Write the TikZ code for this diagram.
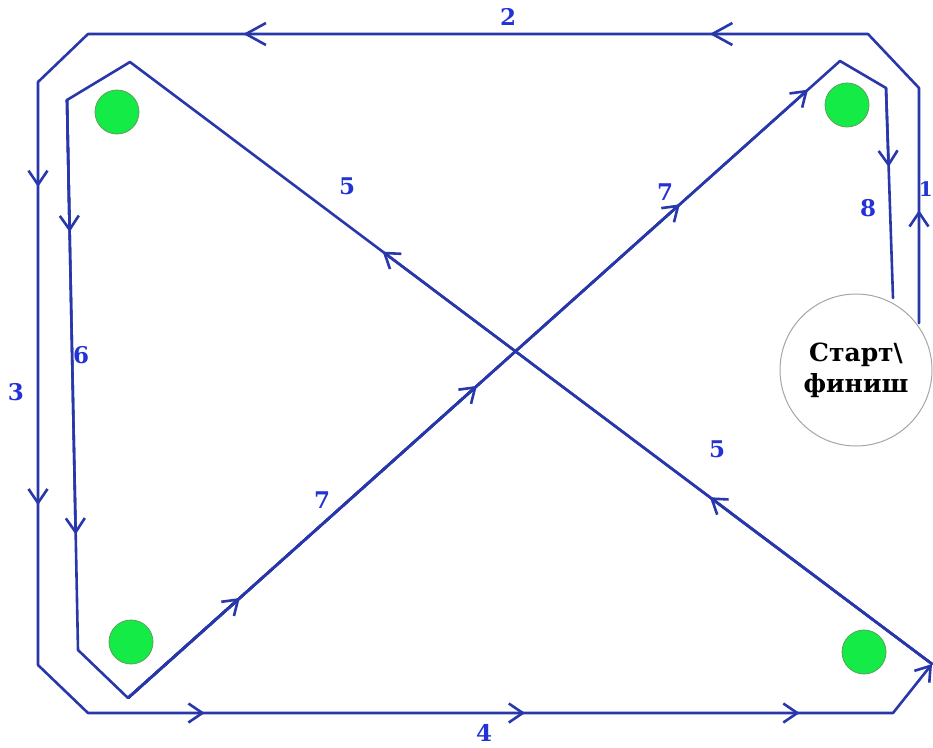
\documentclass[tikz,border=0pt]{standalone}
\usepackage{fontspec}
\setmainfont{DejaVu Serif}
\usetikzlibrary{arrows.meta,calc}
\definecolor{pathblue}{RGB}{40,55,170}
\definecolor{lblblue}{RGB}{35,50,215}
\definecolor{dotgreen}{RGB}{20,235,70}
\definecolor{dotedge}{RGB}{90,160,90}
\begin{document}
\begin{tikzpicture}[x=1pt,y=-1pt,
  route/.style={draw=pathblue, line width=2.6pt, line join=round, line cap=round},
  tipmark/.style={route, -{Straight Barb[length=14pt,width=19pt]}},
  bigtip/.style={route, -{Straight Barb[length=20pt,width=22pt]}},
  dot/.style={circle, fill=dotgreen, draw=dotedge, line width=0.8pt, minimum size=44pt, inner sep=0pt},
  startc/.style={circle, draw=black!35, line width=1pt, fill=white, minimum size=152pt, inner sep=0pt, align=center, font=\fontsize{25}{31}\selectfont\bfseries},
  lbl/.style={text=lblblue, font=\fontsize{23}{25}\selectfont\bfseries, inner sep=0pt}]
\useasboundingbox (0,0) rectangle (933,747);
% outer route
\coordinate (s1) at (919,323);
\coordinate (o1) at (919,88);
\coordinate (o2) at (868,34);
\coordinate (o3) at (88,34);
\coordinate (o4) at (38,82);
\coordinate (o5) at (38,665);
\coordinate (o6) at (88,713);
\coordinate (o7) at (893,713);
\coordinate (o8) at (932,664);
% inner route
\coordinate (p1) at (130,62);
\coordinate (p2) at (67,100);
\coordinate (p3) at (78,650);
\coordinate (p4) at (128,698);
\coordinate (p5) at (840,61);
\coordinate (p6) at (886,88);
\coordinate (p7) at (893,298);

\draw[route] (s1) -- (o1) -- (o2) -- (o3) -- (o4) -- (o5) -- (o6) -- (o7);
\draw[tipmark] (o7) -- (o8);
\draw[route] (o8) -- (p1) -- (p2) -- (p3) -- (p4) -- (p5) -- (p6) -- (p7);

% arrow marks
\draw[tipmark] (s1) -- ($(s1)!0.48!(o1)$);
\draw[bigtip] (o2) -- ($(o2)!0.203!(o3)$);
\draw[bigtip] (o2) -- ($(o2)!0.801!(o3)$);
\draw[tipmark] (o4) -- ($(o4)!0.18!(o5)$);
\draw[tipmark] (o4) -- ($(o4)!0.726!(o5)$);
\draw[tipmark] (o6) -- ($(o6)!0.145!(o7)$);
\draw[tipmark] (o6) -- ($(o6)!0.543!(o7)$);
\draw[tipmark] (o6) -- ($(o6)!0.884!(o7)$);
\draw[tipmark] (o8) -- ($(o8)!0.277!(p1)$);
\draw[tipmark] (o8) -- ($(o8)!0.685!(p1)$);
\draw[tipmark] (p2) -- ($(p2)!0.24!(p3)$);
\draw[tipmark] (p2) -- ($(p2)!0.79!(p3)$);
\draw[tipmark] (p4) -- ($(p4)!0.157!(p5)$);
\draw[tipmark] (p4) -- ($(p4)!0.49!(p5)$);
\draw[tipmark] (p4) -- ($(p4)!0.775!(p5)$);
\draw[tipmark] (p4) -- ($(p4)!0.955!(p5)$);
\draw[tipmark] (p6) -- ($(p6)!0.376!(p7)$);

% green markers
\node[dot] (g1) at (117,112) {};
\node[dot] (g2) at (847,105) {};
\node[dot] (g3) at (131,642) {};
\node[dot] (g4) at (864,652) {};

% start / finish
\node[startc] (sf) at (856,370) {Старт\textbackslash\\финиш};

% labels
\node[lbl, anchor=east, font=\fontsize{20}{22}\selectfont\bfseries] (l1) at (933,189) {1};
\node[lbl] (l2) at (508,17) {2};
\node[lbl] (l3) at (16,392) {3};
\node[lbl] (l4) at (484,733) {4};
\node[lbl] (l5a) at (347,186) {5};
\node[lbl] (l5b) at (717,449) {5};
\node[lbl] (l6) at (81,355) {6};
\node[lbl] (l7a) at (665,192) {7};
\node[lbl] (l7b) at (322,500) {7};
\node[lbl] (l8) at (868,208) {8};
\end{tikzpicture}
\end{document}
